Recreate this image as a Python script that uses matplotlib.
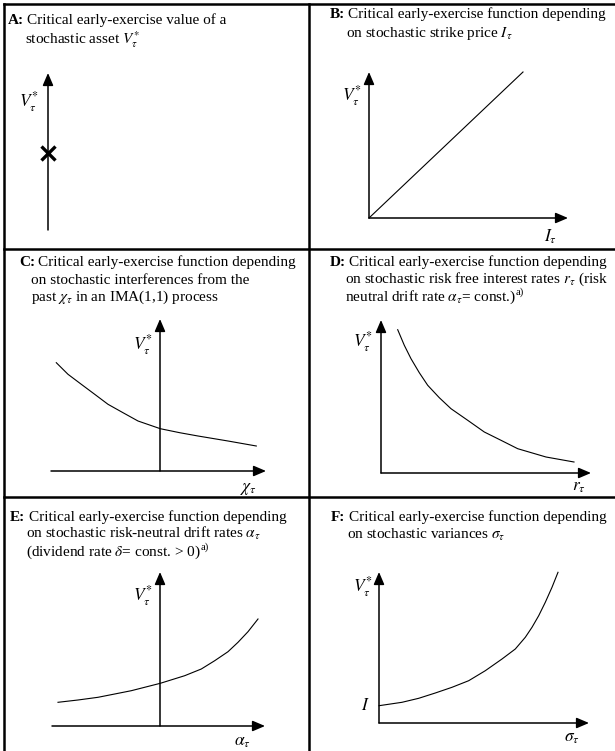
import matplotlib.pyplot as plt
from matplotlib.lines import Line2D

W, H = 615, 751
plt.rcParams['font.family'] = 'Liberation Serif'
plt.rcParams['mathtext.fontset'] = 'stix'

TITLE_FS = 11
LABEL_FS = 12.5

# panel data (units relative to each panel's origin, y up)
a_axis_top = 15.7
a_critical = 7.7

b_x_tip, b_y_tip = 19.9, 14.6
b_line_x = [0, 15.4]
b_line_y = [0, 14.6]

c_x_range = (-10.9, 10.6)
c_y_tip = 15.2
c_x = [-10.37, -9.2, -7.87, -6.53, -5.2, -3.7, -2.2, 0.03, 1.97, 3.8, 6.8, 9.63]
c_y = [10.83, 9.67, 8.67, 7.67, 6.67, 5.83, 5.0, 4.23, 3.83, 3.5, 3.0, 2.5]

d_x_tip, d_y_tip = 21.0, 15.3
d_x = [1.67, 2.33, 3.0, 3.83, 4.67, 5.83, 7.0, 8.67, 10.33, 12.0, 13.67, 16.5, 19.3]
d_y = [14.33, 12.77, 11.43, 10.03, 8.77, 7.53, 6.43, 5.27, 4.1, 3.27, 2.43, 1.6, 1.1]

e_x_range = (-10.8, 10.5)
e_y_tip = 15.4
e_x = [-10.2, -8.2, -6.2, -4.53, -2.87, 0.03, 2.47, 4.13, 5.47, 6.8, 7.8, 8.8, 9.8]
e_y = [2.37, 2.6, 2.87, 3.2, 3.53, 4.27, 5.03, 5.7, 6.53, 7.43, 8.37, 9.43, 10.7]

f_x_tip, f_y_tip = 21.0, 15.1
f_x = [0, 2.3, 3.97, 5.63, 7.3, 8.97, 10.63, 12.3, 13.63, 14.63, 15.3, 15.97, 16.63, 17.3, 17.9]
f_y = [1.73, 2.07, 2.47, 3.0, 3.57, 4.23, 5.23, 6.4, 7.4, 8.57, 9.57, 10.73, 12.07, 13.57, 15.07]

titles = {
    'A': ["Critical early-exercise value of a",
          "stochastic asset $V_{\\tau}^{*}$"],
    'B': ["Critical early-exercise function depending",
          "on stochastic strike price $I_{\\tau}$"],
    'C': ["Critical early-exercise function depending",
          "on stochastic interferences from the",
          "past $\\chi_{\\tau}$ in an IMA(1,1) process"],
    'D': ["Critical early-exercise function depending",
          "on stochastic risk free interest rates $r_{\\tau}$ (risk",
          "neutral drift rate $\\alpha_{\\tau}$= const.)"],
    'E': ["Critical early-exercise function depending",
          "on stochastic risk-neutral drift rates $\\alpha_{\\tau}$",
          "(dividend rate $\\delta$= const. > 0)"],
    'F': ["Critical early-exercise function depending",
          "on stochastic variances $\\sigma_{\\tau}$"],
}
FOOTNOTE = 'a)'
V_LABEL = '$V_{\\tau}^{*}$'

fig = plt.figure(figsize=(W / 100, H / 100), dpi=100)


def fx(x):
    return x / W


def fy(y):
    return 1 - y / H


# table grid
COL, ROW1, ROW2 = 309, 249, 497
for (x0, y0, x1, y1) in [(4, 4, 620, 4), (4, 4, 4, 760), (COL, 4, COL, 760),
                         (4, ROW1, 620, ROW1), (4, ROW2, 620, ROW2)]:
    fig.add_artist(Line2D([fx(x0), fx(x1)], [fy(y0), fy(y1)], color='black',
                          lw=1.8, transform=fig.transFigure, zorder=5))


def cell_axes(left, top, right, bottom, ox, oy):
    ax = fig.add_axes([fx(left), fy(bottom), (right - left) / W, (bottom - top) / H])
    ax.set_xlim((left - ox) / 10, (right - ox) / 10)
    ax.set_ylim((oy - bottom) / 10, (oy - top) / 10)
    ax.axis('off')
    ax.patch.set_visible(False)
    return ax


def arrow(ax, start, tip):
    ax.annotate('', xy=tip, xytext=start,
                arrowprops=dict(arrowstyle='-|>,head_length=0.75,head_width=0.32',
                                lw=1.1, color='black', shrinkA=0, shrinkB=0,
                                mutation_scale=10))


def title(key, x_key, x_text, x_indent, baselines, footnote=False):
    lines = titles[key]
    fig.text(fx(x_key), fy(baselines[0]), key + ':', fontsize=TITLE_FS,
             fontweight='bold', va='baseline')
    fig.text(fx(x_text), fy(baselines[0]), lines[0], fontsize=TITLE_FS, va='baseline')
    last = None
    for s, b in zip(lines[1:], baselines[1:]):
        last = fig.text(fx(x_indent), fy(b), s, fontsize=TITLE_FS, va='baseline')
    if footnote:
        # superscript "a)" right after the closing bracket
        r = fig.canvas.get_renderer()
        bb = last.get_window_extent(r)
        fig.text(fx(bb.x1 - 0.5), fy(baselines[-1] - 6), FOOTNOTE,
                 fontsize=TITLE_FS * 0.7, va='baseline')


# A
ax = cell_axes(4, 4, COL, ROW1, 48, 230)
arrow(ax, (0, 0), (0, a_axis_top))
ax.plot([0], [a_critical], marker='x', color='black', ms=10, mew=2.4)
ax.text(-1.9, 12.8, V_LABEL, fontsize=LABEL_FS, ha='center', va='center')
title('A', 8, 27, 25, [24, 44])

# B
ax = cell_axes(COL, 4, 620, ROW1, 369, 218)
arrow(ax, (0, 0), (0, b_y_tip))
arrow(ax, (0, 0), (b_x_tip, 0))
ax.plot(b_line_x, b_line_y, color='black', lw=0.8)
ax.text(-1.7, 12.2, V_LABEL, fontsize=LABEL_FS, ha='center', va='center')
ax.text(18.2, -1.9, '$I_{\\tau}$', fontsize=LABEL_FS, ha='center', va='center')
title('B', 330, 348, 346, [18, 37])

# C
ax = cell_axes(4, ROW1, COL, ROW2, 160, 471)
arrow(ax, (0, 0), (0, c_y_tip))
arrow(ax, (c_x_range[0], 0), (c_x_range[1], 0))
ax.plot(c_x, c_y, color='black', lw=0.8)
ax.text(-1.7, 12.6, V_LABEL, fontsize=LABEL_FS, ha='center', va='center')
ax.text(8.8, -1.8, '$\\chi_{\\tau}$', fontsize=LABEL_FS, ha='center', va='center')
title('C', 19, 38, 31, [266, 284, 301])

# D
ax = cell_axes(COL, ROW1, 620, ROW2, 381, 473)
arrow(ax, (0, 0), (0, d_y_tip))
arrow(ax, (0, 0), (d_x_tip, 0))
ax.plot(d_x, d_y, color='black', lw=0.8)
ax.text(-1.8, 13.1, V_LABEL, fontsize=LABEL_FS, ha='center', va='center')
ax.text(19.8, -1.4, '$r_{\\tau}$', fontsize=LABEL_FS, ha='center', va='center')
title('D', 330, 349, 345, [266, 283, 301], footnote=True)

# E
ax = cell_axes(4, ROW2, COL, 760, 160, 726)
arrow(ax, (0, 0), (0, e_y_tip))
arrow(ax, (e_x_range[0], 0), (e_x_range[1], 0))
ax.plot(e_x, e_y, color='black', lw=0.8)
ax.text(-1.7, 13.0, V_LABEL, fontsize=LABEL_FS, ha='center', va='center')
ax.text(8.2, -1.6, '$\\alpha_{\\tau}$', fontsize=LABEL_FS, ha='center', va='center')
title('E', 10, 29, 26, [521, 538, 556], footnote=True)

# F
ax = cell_axes(COL, ROW2, 620, 760, 379, 723)
arrow(ax, (0, 0), (0, f_y_tip))
arrow(ax, (0, 0), (f_x_tip, 0))
ax.plot(f_x, f_y, color='black', lw=0.8)
ax.text(-1.6, 13.6, V_LABEL, fontsize=LABEL_FS, ha='center', va='center')
ax.text(-1.4, 1.7, '$I$', fontsize=LABEL_FS, ha='center', va='center')
ax.text(19.3, -1.5, '$\\sigma_{\\tau}$', fontsize=LABEL_FS, ha='center', va='center')
title('F', 331, 349, 347, [521, 539])

fig.savefig('out.png', dpi=100)
